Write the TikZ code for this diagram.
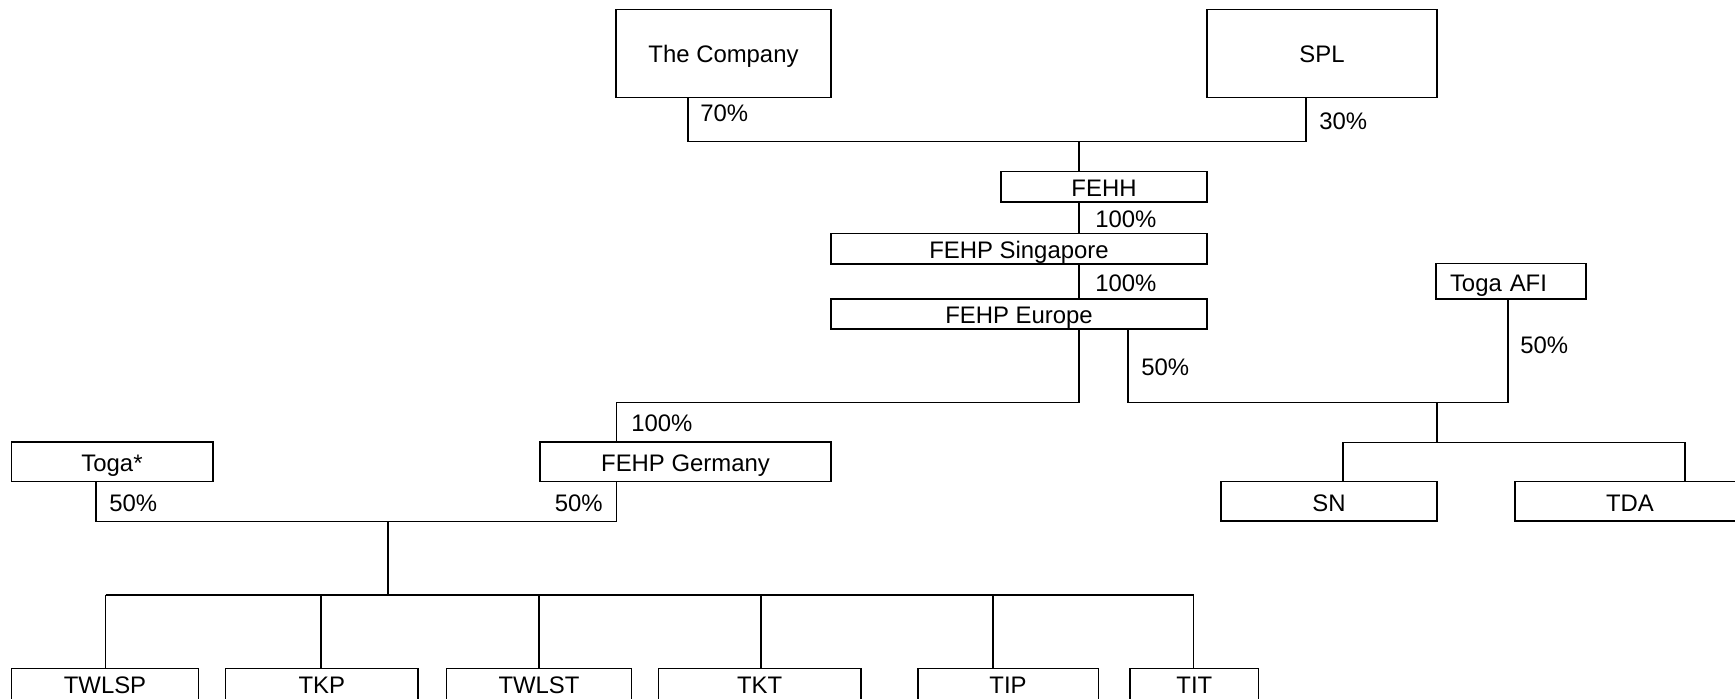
\documentclass[tikz,border=0pt]{standalone}
\usepackage{fontspec}
\setmainfont{Liberation Sans}
\tikzstyle{entity}=[draw, line width=0.85pt, inner sep=0, minimum height=0.79cm, text height=11pt, text depth=0pt]
\tikzstyle{holding}=[line width=0.85pt]
\tikzstyle{share}=[inner sep=0, anchor=west]

\begin{document}
\begin{tikzpicture}[font=\fontsize{13.6}{16}\selectfont]
      \useasboundingbox (0, 0) rectangle (34.7, 13.98);
      \clip (0, 0) rectangle (34.7, 13.98);

      % owners
      \node[entity, minimum width=4.3cm, minimum height=1.76cm] (company) at (14.47, 12.914) {The Company};
      \node[entity, minimum width=4.6cm, minimum height=1.76cm] (spl) at (26.44, 12.914) {SPL};

      % holding chain
      \node[entity, minimum width=4.12cm, minimum height=0.61cm] (fehh) at (22.08, 10.244) {FEHH};
      \node[entity, minimum width=7.52cm, minimum height=0.61cm] (fehps) at (20.38, 9.006) {FEHP Singapore};
      \node[entity, minimum width=7.52cm, minimum height=0.6cm] (fehpe) at (20.38, 7.696) {FEHP Europe};
      \node[entity, minimum width=3cm, minimum height=0.71cm, inner xsep=0.28cm, text width=2.44cm, align=left] (togaafi) at (30.22, 8.35) {Toga AFI};

      \node[entity, minimum width=4.03cm] (togastar) at (2.24, 4.74) {Toga*};
      \node[entity, minimum width=5.82cm] (fehpg) at (13.71, 4.74) {FEHP Germany};
      \node[entity, minimum width=4.32cm] (sn) at (26.58, 3.952) {SN};
      \node[entity, minimum width=4.6cm] (tda) at (32.6, 3.952) {TDA};

      % plants
      \node[entity, minimum width=3.74cm, minimum height=0.62cm] (twlsp) at (2.1, 0.296) {TWLSP};
      \node[entity, minimum width=3.85cm, minimum height=0.62cm] (tkp) at (6.436, 0.296) {TKP};
      \node[entity, minimum width=3.7cm, minimum height=0.62cm] (twlst) at (10.78, 0.296) {TWLST};
      \node[entity, minimum width=4.05cm, minimum height=0.62cm] (tkt) at (15.194, 0.296) {TKT};
      \node[entity, minimum width=3.61cm, minimum height=0.62cm] (tip) at (20.16, 0.296) {TIP};
      \node[entity, minimum width=2.57cm, minimum height=0.62cm] (tit) at (23.886, 0.296) {TIT};

      \coordinate (company_leg) at (13.76, 11.146);
      \coordinate (spl_leg) at (26.12, 11.146);
      \coordinate (fehh_leg) at (21.58, 11.146);
      \coordinate (europe_left) at (21.58, 5.926);
      \coordinate (germany_leg) at (12.33, 5.926);
      \coordinate (europe_right) at (22.56, 5.926);
      \coordinate (afi_leg) at (30.16, 5.926);
      \coordinate (jv_top) at (28.74, 5.926);
      \coordinate (jv_bus) at (28.74, 5.126);
      \coordinate (sn_leg) at (26.86, 5.126);
      \coordinate (tda_leg) at (33.7, 5.126);
      \coordinate (toga_leg) at (1.92, 3.554);
      \coordinate (germany_foot) at (12.33, 3.554);
      \coordinate (plants_top) at (7.76, 3.554);
      \coordinate (plants_bus) at (7.76, 2.08);

      \draw[holding] (company.south -| company_leg) -- (company_leg) -- (spl_leg) -- (spl.south -| spl_leg);
      \draw[holding] (fehh_leg) -- (fehh.north -| fehh_leg);
      \draw[holding] (fehh.south -| fehh_leg) -- (fehps.north -| fehh_leg);
      \draw[holding] (fehps.south -| fehh_leg) -- (fehpe.north -| fehh_leg);

      \draw[holding] (fehpe.south -| europe_left) -- (europe_left) -- (germany_leg) -- (fehpg.north -| germany_leg);
      \draw[holding] (fehpe.south -| europe_right) -- (europe_right) -- (afi_leg) -- (togaafi.south -| afi_leg);
      \draw[holding] (jv_top) -- (jv_bus);
      \draw[holding] (sn.north -| sn_leg) -- (sn_leg) -- (tda_leg) -- (tda.north -| tda_leg);

      \draw[holding] (togastar.south -| toga_leg) -- (toga_leg) -- (germany_foot) -- (fehpg.south -| germany_foot);
      \draw[holding] (plants_top) -- (plants_bus);

      \foreach \plant/\x in {twlsp/2.112, tkp/6.42, twlst/10.78, tkt/15.22, tip/19.856, tit/23.874}
        \coordinate (\plant_leg) at (\x, 2.08);
      \draw[holding] (twlsp_leg) -- (tit_leg);
      \foreach \plant in {twlsp, tkp, twlst, tkt, tip, tit}
        \draw[holding] (\plant_leg) -- (\plant.north -| \plant_leg);

      % percentages
      \node[share] (pct_company) at (14.0, 11.72) {70\%};
      \node[share] (pct_spl) at (26.38, 11.56) {30\%};
      \node[share] (pct_fehh) at (21.9, 9.6) {100\%};
      \node[share] (pct_fehps) at (21.9, 8.32) {100\%};
      \node[share] (pct_europe) at (22.82, 6.64) {50\%};
      \node[share] (pct_afi) at (30.4, 7.08) {50\%};
      \node[share] (pct_germany) at (12.62, 5.52) {100\%};
      \node[share] (pct_toga) at (2.18, 3.92) {50\%};
      \node[share, anchor=east] (pct_fehpg) at (12.06, 3.92) {50\%};
    \end{tikzpicture}
\end{document}
